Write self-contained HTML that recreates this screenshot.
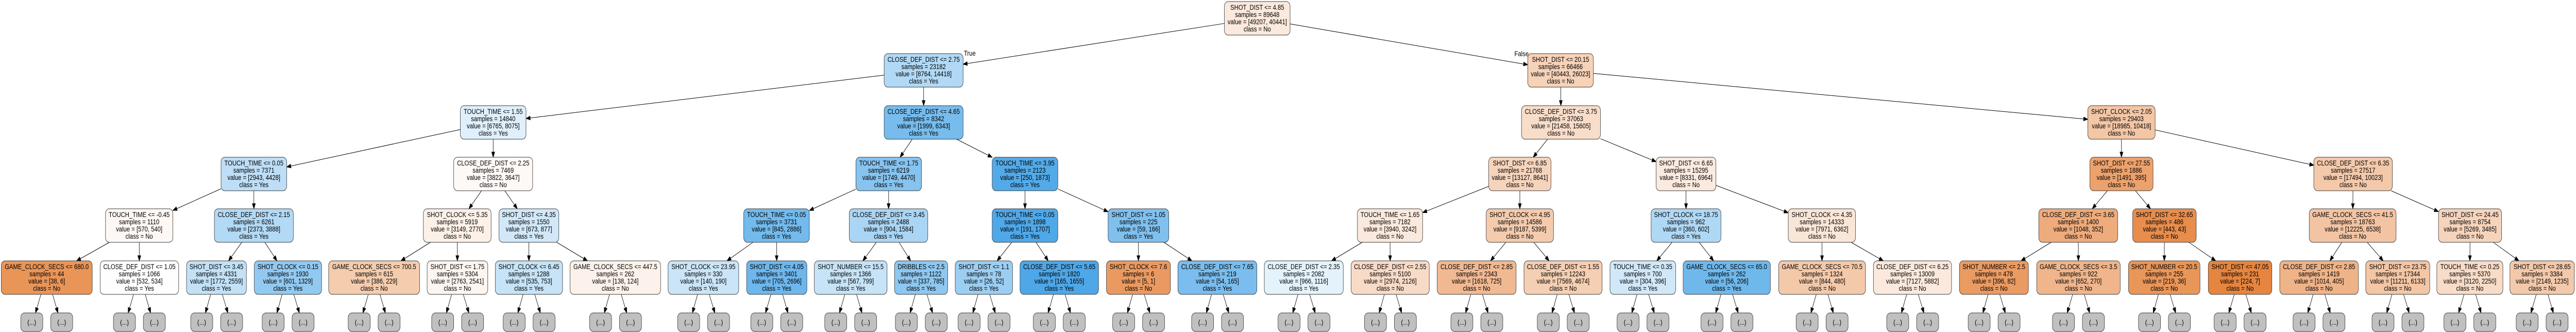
<!DOCTYPE html>
<html><head><meta charset="utf-8"><style>
html,body{margin:0;padding:0;background:#fff;width:100%;height:644px;overflow:hidden;}
svg{display:block;width:100%;height:644px;}
text{font-family:"Liberation Sans",Arial,sans-serif;font-size:14px;fill:#000;text-anchor:middle;}
.n{stroke:#3a3a3a;stroke-width:1;}
.lf{fill:#c0c0c0;stroke:#3a3a3a;stroke-width:1;}
</style></head><body>
<svg id="e" viewBox="0 0 6200 644" preserveAspectRatio="none" xmlns="http://www.w3.org/2000/svg">
<rect x="0" y="0" width="6200" height="644" fill="#fff"/>
<g id="edges"></g>
<text x="2320" y="108" style="text-anchor:start">True</text>
<text x="3645" y="109" style="text-anchor:start">False</text>

<rect class="n r0" x="2947" y="3" width="158" height="65" rx="9" fill="#fae9dc"/><text y="19"><tspan x="3026">SHOT_DIST &lt;= 4.85</tspan><tspan x="3026" dy="14">samples = 89648</tspan><tspan x="3026" dy="14">value = [49207, 40441]</tspan><tspan x="3026" dy="14">class = No</tspan></text>

<rect class="n r1" x="2128" y="104" width="190" height="65" rx="9" fill="#b1d9f5"/><text y="120"><tspan x="2223">CLOSE_DEF_DIST &lt;= 2.75</tspan><tspan x="2223" dy="14">samples = 23182</tspan><tspan x="2223" dy="14">value = [8764, 14418]</tspan><tspan x="2223" dy="14">class = Yes</tspan></text>
<rect class="n r1" x="3677" y="104" width="158" height="65" rx="9" fill="#f6d2b8"/><text y="120"><tspan x="3756">SHOT_DIST &lt;= 20.15</tspan><tspan x="3756" dy="14">samples = 66466</tspan><tspan x="3756" dy="14">value = [40443, 26023]</tspan><tspan x="3756" dy="14">class = No</tspan></text>

<rect class="n r2" x="1108" y="205" width="158" height="65" rx="9" fill="#dfeffb"/><text y="221"><tspan x="1187">TOUCH_TIME &lt;= 1.55</tspan><tspan x="1187" dy="14">samples = 14840</tspan><tspan x="1187" dy="14">value = [6765, 8075]</tspan><tspan x="1187" dy="14">class = Yes</tspan></text>
<rect class="n r2" x="2128" y="205" width="190" height="65" rx="9" fill="#77bced"/><text y="221"><tspan x="2223">CLOSE_DEF_DIST &lt;= 4.65</tspan><tspan x="2223" dy="14">samples = 8342</tspan><tspan x="2223" dy="14">value = [1999, 6343]</tspan><tspan x="2223" dy="14">class = Yes</tspan></text>
<rect class="n r2" x="3662" y="205" width="190" height="65" rx="9" fill="#f8ddc9"/><text y="221"><tspan x="3757">CLOSE_DEF_DIST &lt;= 3.75</tspan><tspan x="3757" dy="14">samples = 37063</tspan><tspan x="3757" dy="14">value = [21458, 15605]</tspan><tspan x="3757" dy="14">class = No</tspan></text>
<rect class="n r2" x="5025" y="205" width="162" height="65" rx="9" fill="#f3c6a6"/><text y="221"><tspan x="5106">SHOT_CLOCK &lt;= 2.05</tspan><tspan x="5106" dy="14">samples = 29403</tspan><tspan x="5106" dy="14">value = [18985, 10418]</tspan><tspan x="5106" dy="14">class = No</tspan></text>

<rect class="n r3" x="532" y="305" width="158" height="65" rx="9" fill="#bddef6"/><text y="321"><tspan x="611">TOUCH_TIME &lt;= 0.05</tspan><tspan x="611" dy="14">samples = 7371</tspan><tspan x="611" dy="14">value = [2943, 4428]</tspan><tspan x="611" dy="14">class = Yes</tspan></text>
<rect class="n r3" x="1092" y="305" width="190" height="65" rx="9" fill="#fef9f6"/><text y="321"><tspan x="1187">CLOSE_DEF_DIST &lt;= 2.25</tspan><tspan x="1187" dy="14">samples = 7469</tspan><tspan x="1187" dy="14">value = [3822, 3647]</tspan><tspan x="1187" dy="14">class = No</tspan></text>
<rect class="n r3" x="2060" y="305" width="158" height="65" rx="9" fill="#86c3ef"/><text y="321"><tspan x="2139">TOUCH_TIME &lt;= 1.75</tspan><tspan x="2139" dy="14">samples = 6219</tspan><tspan x="2139" dy="14">value = [1749, 4470]</tspan><tspan x="2139" dy="14">class = Yes</tspan></text>
<rect class="n r3" x="2388" y="305" width="158" height="65" rx="9" fill="#53aae8"/><text y="321"><tspan x="2467">TOUCH_TIME &lt;= 3.95</tspan><tspan x="2467" dy="14">samples = 2123</tspan><tspan x="2467" dy="14">value = [250, 1873]</tspan><tspan x="2467" dy="14">class = Yes</tspan></text>
<rect class="n r3" x="3583" y="305" width="150" height="65" rx="9" fill="#f6d4bb"/><text y="321"><tspan x="3658">SHOT_DIST &lt;= 6.85</tspan><tspan x="3658" dy="14">samples = 21768</tspan><tspan x="3658" dy="14">value = [13127, 8641]</tspan><tspan x="3658" dy="14">class = No</tspan></text>
<rect class="n r3" x="3986" y="305" width="144" height="65" rx="9" fill="#fbeadf"/><text y="321"><tspan x="4058">SHOT_DIST &lt;= 6.65</tspan><tspan x="4058" dy="14">samples = 15295</tspan><tspan x="4058" dy="14">value = [8331, 6964]</tspan><tspan x="4058" dy="14">class = No</tspan></text>
<rect class="n r3" x="5030" y="305" width="152" height="65" rx="9" fill="#eca26d"/><text y="321"><tspan x="5106">SHOT_DIST &lt;= 27.55</tspan><tspan x="5106" dy="14">samples = 1886</tspan><tspan x="5106" dy="14">value = [1491, 395]</tspan><tspan x="5106" dy="14">class = No</tspan></text>
<rect class="n r3" x="5569" y="305" width="189" height="65" rx="9" fill="#f4c9aa"/><text y="321"><tspan x="5663.5">CLOSE_DEF_DIST &lt;= 6.35</tspan><tspan x="5663.5" dy="14">samples = 27517</tspan><tspan x="5663.5" dy="14">value = [17494, 10023]</tspan><tspan x="5663.5" dy="14">class = No</tspan></text>

<rect class="n r4" x="254" y="405" width="162" height="65" rx="9" fill="#fef8f5"/><text y="421"><tspan x="335">TOUCH_TIME &lt;= -0.45</tspan><tspan x="335" dy="14">samples = 1110</tspan><tspan x="335" dy="14">value = [570, 540]</tspan><tspan x="335" dy="14">class = No</tspan></text>
<rect class="n r4" x="516" y="405" width="190" height="65" rx="9" fill="#b2d9f5"/><text y="421"><tspan x="611">CLOSE_DEF_DIST &lt;= 2.15</tspan><tspan x="611" dy="14">samples = 6261</tspan><tspan x="611" dy="14">value = [2373, 3888]</tspan><tspan x="611" dy="14">class = Yes</tspan></text>
<rect class="n r4" x="1019" y="405" width="163" height="65" rx="9" fill="#fcf0e7"/><text y="421"><tspan x="1100.5">SHOT_CLOCK &lt;= 5.35</tspan><tspan x="1100.5" dy="14">samples = 5919</tspan><tspan x="1100.5" dy="14">value = [3149, 2770]</tspan><tspan x="1100.5" dy="14">class = No</tspan></text>
<rect class="n r4" x="1201" y="405" width="144" height="65" rx="9" fill="#d1e8f9"/><text y="421"><tspan x="1273">SHOT_DIST &lt;= 4.35</tspan><tspan x="1273" dy="14">samples = 1550</tspan><tspan x="1273" dy="14">value = [673, 877]</tspan><tspan x="1273" dy="14">class = Yes</tspan></text>
<rect class="n r4" x="1790" y="405" width="158" height="65" rx="9" fill="#73baed"/><text y="421"><tspan x="1869">TOUCH_TIME &lt;= 0.05</tspan><tspan x="1869" dy="14">samples = 3731</tspan><tspan x="1869" dy="14">value = [845, 2886]</tspan><tspan x="1869" dy="14">class = Yes</tspan></text>
<rect class="n r4" x="2044" y="405" width="189" height="65" rx="9" fill="#aad5f4"/><text y="421"><tspan x="2138.5">CLOSE_DEF_DIST &lt;= 3.45</tspan><tspan x="2138.5" dy="14">samples = 2488</tspan><tspan x="2138.5" dy="14">value = [904, 1584]</tspan><tspan x="2138.5" dy="14">class = Yes</tspan></text>
<rect class="n r4" x="2388" y="405" width="158" height="65" rx="9" fill="#4fa8e8"/><text y="421"><tspan x="2467">TOUCH_TIME &lt;= 0.05</tspan><tspan x="2467" dy="14">samples = 1898</tspan><tspan x="2467" dy="14">value = [191, 1707]</tspan><tspan x="2467" dy="14">class = Yes</tspan></text>
<rect class="n r4" x="2667" y="405" width="146" height="65" rx="9" fill="#7fc0ee"/><text y="421"><tspan x="2740">SHOT_DIST &lt;= 1.05</tspan><tspan x="2740" dy="14">samples = 225</tspan><tspan x="2740" dy="14">value = [59, 166]</tspan><tspan x="2740" dy="14">class = Yes</tspan></text>
<rect class="n r4" x="3267" y="405" width="157" height="65" rx="9" fill="#fae9dc"/><text y="421"><tspan x="3345.5">TOUCH_TIME &lt;= 1.65</tspan><tspan x="3345.5" dy="14">samples = 7182</tspan><tspan x="3345.5" dy="14">value = [3940, 3242]</tspan><tspan x="3345.5" dy="14">class = No</tspan></text>
<rect class="n r4" x="3577" y="405" width="162" height="65" rx="9" fill="#f4cbad"/><text y="421"><tspan x="3658">SHOT_CLOCK &lt;= 4.95</tspan><tspan x="3658" dy="14">samples = 14586</tspan><tspan x="3658" dy="14">value = [9187, 5399]</tspan><tspan x="3658" dy="14">class = No</tspan></text>
<rect class="n r4" x="3974" y="405" width="168" height="65" rx="9" fill="#afd8f5"/><text y="421"><tspan x="4058">SHOT_CLOCK &lt;= 18.75</tspan><tspan x="4058" dy="14">samples = 962</tspan><tspan x="4058" dy="14">value = [360, 602]</tspan><tspan x="4058" dy="14">class = Yes</tspan></text>
<rect class="n r4" x="4304" y="405" width="162" height="65" rx="9" fill="#fae6d7"/><text y="421"><tspan x="4385">SHOT_CLOCK &lt;= 4.35</tspan><tspan x="4385" dy="14">samples = 14333</tspan><tspan x="4385" dy="14">value = [7971, 6362]</tspan><tspan x="4385" dy="14">class = No</tspan></text>
<rect class="n r4" x="4907" y="405" width="190" height="65" rx="9" fill="#eeab7c"/><text y="421"><tspan x="5002">CLOSE_DEF_DIST &lt;= 3.65</tspan><tspan x="5002" dy="14">samples = 1400</tspan><tspan x="5002" dy="14">value = [1048, 352]</tspan><tspan x="5002" dy="14">class = No</tspan></text>
<rect class="n r4" x="5133" y="405" width="153" height="65" rx="9" fill="#e88d4c"/><text y="421"><tspan x="5209.5">SHOT_DIST &lt;= 32.65</tspan><tspan x="5209.5" dy="14">samples = 486</tspan><tspan x="5209.5" dy="14">value = [443, 43]</tspan><tspan x="5209.5" dy="14">class = No</tspan></text>
<rect class="n r4" x="5558" y="405" width="209" height="65" rx="9" fill="#f3c4a3"/><text y="421"><tspan x="5662.5">GAME_CLOCK_SECS &lt;= 41.5</tspan><tspan x="5662.5" dy="14">samples = 18763</tspan><tspan x="5662.5" dy="14">value = [12225, 6538]</tspan><tspan x="5662.5" dy="14">class = No</tspan></text>
<rect class="n r4" x="5869" y="405" width="152" height="65" rx="9" fill="#f6d4bc"/><text y="421"><tspan x="5945">SHOT_DIST &lt;= 24.45</tspan><tspan x="5945" dy="14">samples = 8754</tspan><tspan x="5945" dy="14">value = [5269, 3485]</tspan><tspan x="5945" dy="14">class = No</tspan></text>

<rect class="n r5" x="3" y="506" width="219" height="65" rx="9" fill="#e99558"/><text y="522"><tspan x="112.5">GAME_CLOCK_SECS &lt;= 680.0</tspan><tspan x="112.5" dy="14">samples = 44</tspan><tspan x="112.5" dy="14">value = [38, 6]</tspan><tspan x="112.5" dy="14">class = No</tspan></text>
<rect class="n r5" x="241" y="506" width="189" height="65" rx="9" fill="#fefeff"/><text y="522"><tspan x="335.5">CLOSE_DEF_DIST &lt;= 1.05</tspan><tspan x="335.5" dy="14">samples = 1066</tspan><tspan x="335.5" dy="14">value = [532, 534]</tspan><tspan x="335.5" dy="14">class = Yes</tspan></text>
<rect class="n r5" x="449" y="506" width="144" height="65" rx="9" fill="#c2e1f7"/><text y="522"><tspan x="521">SHOT_DIST &lt;= 3.45</tspan><tspan x="521" dy="14">samples = 4331</tspan><tspan x="521" dy="14">value = [1772, 2559]</tspan><tspan x="521" dy="14">class = Yes</tspan></text>
<rect class="n r5" x="612" y="506" width="162" height="65" rx="9" fill="#92c9f1"/><text y="522"><tspan x="693">SHOT_CLOCK &lt;= 0.15</tspan><tspan x="693" dy="14">samples = 1930</tspan><tspan x="693" dy="14">value = [601, 1329]</tspan><tspan x="693" dy="14">class = Yes</tspan></text>
<rect class="n r5" x="791" y="506" width="219" height="65" rx="9" fill="#f4ccae"/><text y="522"><tspan x="900.5">GAME_CLOCK_SECS &lt;= 700.5</tspan><tspan x="900.5" dy="14">samples = 615</tspan><tspan x="900.5" dy="14">value = [386, 229]</tspan><tspan x="900.5" dy="14">class = No</tspan></text>
<rect class="n r5" x="1028" y="506" width="146" height="65" rx="9" fill="#fdf5ef"/><text y="522"><tspan x="1101">SHOT_DIST &lt;= 1.75</tspan><tspan x="1101" dy="14">samples = 5304</tspan><tspan x="1101" dy="14">value = [2763, 2541]</tspan><tspan x="1101" dy="14">class = No</tspan></text>
<rect class="n r5" x="1192" y="506" width="162" height="65" rx="9" fill="#c6e3f7"/><text y="522"><tspan x="1273">SHOT_CLOCK &lt;= 6.45</tspan><tspan x="1273" dy="14">samples = 1288</tspan><tspan x="1273" dy="14">value = [535, 753]</tspan><tspan x="1273" dy="14">class = Yes</tspan></text>
<rect class="n r5" x="1372" y="506" width="218" height="65" rx="9" fill="#fcf2eb"/><text y="522"><tspan x="1481">GAME_CLOCK_SECS &lt;= 447.5</tspan><tspan x="1481" dy="14">samples = 262</tspan><tspan x="1481" dy="14">value = [138, 124]</tspan><tspan x="1481" dy="14">class = No</tspan></text>
<rect class="n r5" x="1608" y="506" width="170" height="65" rx="9" fill="#cbe5f8"/><text y="522"><tspan x="1693">SHOT_CLOCK &lt;= 23.95</tspan><tspan x="1693" dy="14">samples = 330</tspan><tspan x="1693" dy="14">value = [140, 190]</tspan><tspan x="1693" dy="14">class = Yes</tspan></text>
<rect class="n r5" x="1797" y="506" width="145" height="65" rx="9" fill="#6db7ec"/><text y="522"><tspan x="1869.5">SHOT_DIST &lt;= 4.05</tspan><tspan x="1869.5" dy="14">samples = 3401</tspan><tspan x="1869.5" dy="14">value = [705, 2696]</tspan><tspan x="1869.5" dy="14">class = Yes</tspan></text>
<rect class="n r5" x="1960" y="506" width="175" height="65" rx="9" fill="#c6e3f7"/><text y="522"><tspan x="2047.5">SHOT_NUMBER &lt;= 15.5</tspan><tspan x="2047.5" dy="14">samples = 1366</tspan><tspan x="2047.5" dy="14">value = [567, 799]</tspan><tspan x="2047.5" dy="14">class = Yes</tspan></text>
<rect class="n r5" x="2153" y="506" width="128" height="65" rx="9" fill="#8ec7f0"/><text y="522"><tspan x="2217">DRIBBLES &lt;= 2.5</tspan><tspan x="2217" dy="14">samples = 1122</tspan><tspan x="2217" dy="14">value = [337, 785]</tspan><tspan x="2217" dy="14">class = Yes</tspan></text>
<rect class="n r5" x="2299" y="506" width="138" height="65" rx="9" fill="#9ccef2"/><text y="522"><tspan x="2368">SHOT_DIST &lt;= 1.1</tspan><tspan x="2368" dy="14">samples = 78</tspan><tspan x="2368" dy="14">value = [26, 52]</tspan><tspan x="2368" dy="14">class = Yes</tspan></text>
<rect class="n r5" x="2455" y="506" width="189" height="65" rx="9" fill="#4da7e8"/><text y="522"><tspan x="2549.5">CLOSE_DEF_DIST &lt;= 5.65</tspan><tspan x="2549.5" dy="14">samples = 1820</tspan><tspan x="2549.5" dy="14">value = [165, 1655]</tspan><tspan x="2549.5" dy="14">class = Yes</tspan></text>
<rect class="n r5" x="2663" y="506" width="154" height="65" rx="9" fill="#ea9a61"/><text y="522"><tspan x="2740">SHOT_CLOCK &lt;= 7.6</tspan><tspan x="2740" dy="14">samples = 6</tspan><tspan x="2740" dy="14">value = [5, 1]</tspan><tspan x="2740" dy="14">class = No</tspan></text>
<rect class="n r5" x="2835" y="506" width="190" height="65" rx="9" fill="#7abdee"/><text y="522"><tspan x="2930">CLOSE_DEF_DIST &lt;= 7.65</tspan><tspan x="2930" dy="14">samples = 219</tspan><tspan x="2930" dy="14">value = [54, 165]</tspan><tspan x="2930" dy="14">class = Yes</tspan></text>
<rect class="n r5" x="3043" y="506" width="190" height="65" rx="9" fill="#e4f2fc"/><text y="522"><tspan x="3138">CLOSE_DEF_DIST &lt;= 2.35</tspan><tspan x="3138" dy="14">samples = 2082</tspan><tspan x="3138" dy="14">value = [966, 1116]</tspan><tspan x="3138" dy="14">class = Yes</tspan></text>
<rect class="n r5" x="3252" y="506" width="188" height="65" rx="9" fill="#f8dbc7"/><text y="522"><tspan x="3346">CLOSE_DEF_DIST &lt;= 2.55</tspan><tspan x="3346" dy="14">samples = 5100</tspan><tspan x="3346" dy="14">value = [2974, 2126]</tspan><tspan x="3346" dy="14">class = No</tspan></text>
<rect class="n r5" x="3459" y="506" width="190" height="65" rx="9" fill="#f1b992"/><text y="522"><tspan x="3554">CLOSE_DEF_DIST &lt;= 2.85</tspan><tspan x="3554" dy="14">samples = 2343</tspan><tspan x="3554" dy="14">value = [1618, 725]</tspan><tspan x="3554" dy="14">class = No</tspan></text>
<rect class="n r5" x="3668" y="506" width="188" height="65" rx="9" fill="#f5cfb3"/><text y="522"><tspan x="3762">CLOSE_DEF_DIST &lt;= 1.55</tspan><tspan x="3762" dy="14">samples = 12243</tspan><tspan x="3762" dy="14">value = [7569, 4674]</tspan><tspan x="3762" dy="14">class = No</tspan></text>
<rect class="n r5" x="3875" y="506" width="158" height="65" rx="9" fill="#d1e8f9"/><text y="522"><tspan x="3954">TOUCH_TIME &lt;= 0.35</tspan><tspan x="3954" dy="14">samples = 700</tspan><tspan x="3954" dy="14">value = [304, 396]</tspan><tspan x="3954" dy="14">class = Yes</tspan></text>
<rect class="n r5" x="4051" y="506" width="210" height="65" rx="9" fill="#6fb8ec"/><text y="522"><tspan x="4156">GAME_CLOCK_SECS &lt;= 65.0</tspan><tspan x="4156" dy="14">samples = 262</tspan><tspan x="4156" dy="14">value = [56, 206]</tspan><tspan x="4156" dy="14">class = Yes</tspan></text>
<rect class="n r5" x="4281" y="506" width="209" height="65" rx="9" fill="#f4c9aa"/><text y="522"><tspan x="4385.5">GAME_CLOCK_SECS &lt;= 70.5</tspan><tspan x="4385.5" dy="14">samples = 1324</tspan><tspan x="4385.5" dy="14">value = [844, 480]</tspan><tspan x="4385.5" dy="14">class = No</tspan></text>
<rect class="n r5" x="4509" y="506" width="188" height="65" rx="9" fill="#fae9dc"/><text y="522"><tspan x="4603">CLOSE_DEF_DIST &lt;= 6.25</tspan><tspan x="4603" dy="14">samples = 13009</tspan><tspan x="4603" dy="14">value = [7127, 5882]</tspan><tspan x="4603" dy="14">class = No</tspan></text>
<rect class="n r5" x="4716" y="506" width="166" height="65" rx="9" fill="#ea9b62"/><text y="522"><tspan x="4799">SHOT_NUMBER &lt;= 2.5</tspan><tspan x="4799" dy="14">samples = 478</tspan><tspan x="4799" dy="14">value = [396, 82]</tspan><tspan x="4799" dy="14">class = No</tspan></text>
<rect class="n r5" x="4902" y="506" width="201" height="65" rx="9" fill="#f0b58b"/><text y="522"><tspan x="5002.5">GAME_CLOCK_SECS &lt;= 3.5</tspan><tspan x="5002.5" dy="14">samples = 922</tspan><tspan x="5002.5" dy="14">value = [652, 270]</tspan><tspan x="5002.5" dy="14">class = No</tspan></text>
<rect class="n r5" x="5123" y="506" width="172" height="65" rx="9" fill="#e99659"/><text y="522"><tspan x="5209">SHOT_NUMBER &lt;= 20.5</tspan><tspan x="5209" dy="14">samples = 255</tspan><tspan x="5209" dy="14">value = [219, 36]</tspan><tspan x="5209" dy="14">class = No</tspan></text>
<rect class="n r5" x="5315" y="506" width="153" height="65" rx="9" fill="#e6853f"/><text y="522"><tspan x="5391.5">SHOT_DIST &lt;= 47.05</tspan><tspan x="5391.5" dy="14">samples = 231</tspan><tspan x="5391.5" dy="14">value = [224, 7]</tspan><tspan x="5391.5" dy="14">class = No</tspan></text>
<rect class="n r5" x="5487" y="506" width="189" height="65" rx="9" fill="#efb388"/><text y="522"><tspan x="5581.5">CLOSE_DEF_DIST &lt;= 2.85</tspan><tspan x="5581.5" dy="14">samples = 1419</tspan><tspan x="5581.5" dy="14">value = [1014, 405]</tspan><tspan x="5581.5" dy="14">class = No</tspan></text>
<rect class="n r5" x="5694" y="506" width="154" height="65" rx="9" fill="#f3c6a5"/><text y="522"><tspan x="5771">SHOT_DIST &lt;= 23.75</tspan><tspan x="5771" dy="14">samples = 17344</tspan><tspan x="5771" dy="14">value = [11211, 6133]</tspan><tspan x="5771" dy="14">class = No</tspan></text>
<rect class="n r5" x="5865" y="506" width="159" height="65" rx="9" fill="#f8dcc8"/><text y="522"><tspan x="5944.5">TOUCH_TIME &lt;= 0.25</tspan><tspan x="5944.5" dy="14">samples = 5370</tspan><tspan x="5944.5" dy="14">value = [3120, 2250]</tspan><tspan x="5944.5" dy="14">class = No</tspan></text>
<rect class="n r5" x="6041" y="506" width="155" height="65" rx="9" fill="#f4c9ab"/><text y="522"><tspan x="6118.5">SHOT_DIST &lt;= 28.65</tspan><tspan x="6118.5" dy="14">samples = 3384</tspan><tspan x="6118.5" dy="14">value = [2149, 1235]</tspan><tspan x="6118.5" dy="14">class = No</tspan></text>

<g id="leaves">
<rect class="lf" x="50" y="607" width="53" height="36" rx="9"/><text x="76.5" y="630">(...)</text>
<rect class="lf" x="122" y="607" width="53" height="36" rx="9"/><text x="148.5" y="630">(...)</text>
<rect class="lf" x="273" y="607" width="53" height="36" rx="9"/><text x="299.5" y="630">(...)</text>
<rect class="lf" x="345" y="607" width="53" height="36" rx="9"/><text x="371.5" y="630">(...)</text>
<rect class="lf" x="459" y="607" width="53" height="36" rx="9"/><text x="485.5" y="630">(...)</text>
<rect class="lf" x="531" y="607" width="53" height="36" rx="9"/><text x="557.5" y="630">(...)</text>
<rect class="lf" x="631" y="607" width="53" height="36" rx="9"/><text x="657.5" y="630">(...)</text>
<rect class="lf" x="703" y="607" width="53" height="36" rx="9"/><text x="729.5" y="630">(...)</text>
<rect class="lf" x="838" y="607" width="53" height="36" rx="9"/><text x="864.5" y="630">(...)</text>
<rect class="lf" x="910" y="607" width="53" height="36" rx="9"/><text x="936.5" y="630">(...)</text>
<rect class="lf" x="1039" y="607" width="53" height="36" rx="9"/><text x="1065.5" y="630">(...)</text>
<rect class="lf" x="1111" y="607" width="53" height="36" rx="9"/><text x="1137.5" y="630">(...)</text>
<rect class="lf" x="1211" y="607" width="53" height="36" rx="9"/><text x="1237.5" y="630">(...)</text>
<rect class="lf" x="1283" y="607" width="53" height="36" rx="9"/><text x="1309.5" y="630">(...)</text>
<rect class="lf" x="1419" y="607" width="53" height="36" rx="9"/><text x="1445.5" y="630">(...)</text>
<rect class="lf" x="1491" y="607" width="53" height="36" rx="9"/><text x="1517.5" y="630">(...)</text>
<rect class="lf" x="1631" y="607" width="53" height="36" rx="9"/><text x="1657.5" y="630">(...)</text>
<rect class="lf" x="1703" y="607" width="53" height="36" rx="9"/><text x="1729.5" y="630">(...)</text>
<rect class="lf" x="1807" y="607" width="53" height="36" rx="9"/><text x="1833.5" y="630">(...)</text>
<rect class="lf" x="1879" y="607" width="53" height="36" rx="9"/><text x="1905.5" y="630">(...)</text>
<rect class="lf" x="1985" y="607" width="53" height="36" rx="9"/><text x="2011.5" y="630">(...)</text>
<rect class="lf" x="2057" y="607" width="53" height="36" rx="9"/><text x="2083.5" y="630">(...)</text>
<rect class="lf" x="2155" y="607" width="53" height="36" rx="9"/><text x="2181.5" y="630">(...)</text>
<rect class="lf" x="2227" y="607" width="53" height="36" rx="9"/><text x="2253.5" y="630">(...)</text>
<rect class="lf" x="2306" y="607" width="53" height="36" rx="9"/><text x="2332.5" y="630">(...)</text>
<rect class="lf" x="2378" y="607" width="53" height="36" rx="9"/><text x="2404.5" y="630">(...)</text>
<rect class="lf" x="2487" y="607" width="53" height="36" rx="9"/><text x="2513.5" y="630">(...)</text>
<rect class="lf" x="2559" y="607" width="53" height="36" rx="9"/><text x="2585.5" y="630">(...)</text>
<rect class="lf" x="2678" y="607" width="53" height="36" rx="9"/><text x="2704.5" y="630">(...)</text>
<rect class="lf" x="2750" y="607" width="53" height="36" rx="9"/><text x="2776.5" y="630">(...)</text>
<rect class="lf" x="2868" y="607" width="53" height="36" rx="9"/><text x="2894.5" y="630">(...)</text>
<rect class="lf" x="2940" y="607" width="53" height="36" rx="9"/><text x="2966.5" y="630">(...)</text>
<rect class="lf" x="3076" y="607" width="53" height="36" rx="9"/><text x="3102.5" y="630">(...)</text>
<rect class="lf" x="3148" y="607" width="53" height="36" rx="9"/><text x="3174.5" y="630">(...)</text>
<rect class="lf" x="3284" y="607" width="53" height="36" rx="9"/><text x="3310.5" y="630">(...)</text>
<rect class="lf" x="3356" y="607" width="53" height="36" rx="9"/><text x="3382.5" y="630">(...)</text>
<rect class="lf" x="3492" y="607" width="53" height="36" rx="9"/><text x="3518.5" y="630">(...)</text>
<rect class="lf" x="3564" y="607" width="53" height="36" rx="9"/><text x="3590.5" y="630">(...)</text>
<rect class="lf" x="3700" y="607" width="53" height="36" rx="9"/><text x="3726.5" y="630">(...)</text>
<rect class="lf" x="3772" y="607" width="53" height="36" rx="9"/><text x="3798.5" y="630">(...)</text>
<rect class="lf" x="3892" y="607" width="53" height="36" rx="9"/><text x="3918.5" y="630">(...)</text>
<rect class="lf" x="3964" y="607" width="53" height="36" rx="9"/><text x="3990.5" y="630">(...)</text>
<rect class="lf" x="4094" y="607" width="53" height="36" rx="9"/><text x="4120.5" y="630">(...)</text>
<rect class="lf" x="4166" y="607" width="53" height="36" rx="9"/><text x="4192.5" y="630">(...)</text>
<rect class="lf" x="4323" y="607" width="53" height="36" rx="9"/><text x="4349.5" y="630">(...)</text>
<rect class="lf" x="4395" y="607" width="53" height="36" rx="9"/><text x="4421.5" y="630">(...)</text>
<rect class="lf" x="4541" y="607" width="53" height="36" rx="9"/><text x="4567.5" y="630">(...)</text>
<rect class="lf" x="4613" y="607" width="53" height="36" rx="9"/><text x="4639.5" y="630">(...)</text>
<rect class="lf" x="4737" y="607" width="53" height="36" rx="9"/><text x="4763.5" y="630">(...)</text>
<rect class="lf" x="4809" y="607" width="53" height="36" rx="9"/><text x="4835.5" y="630">(...)</text>
<rect class="lf" x="4940" y="607" width="53" height="36" rx="9"/><text x="4966.5" y="630">(...)</text>
<rect class="lf" x="5012" y="607" width="53" height="36" rx="9"/><text x="5038.5" y="630">(...)</text>
<rect class="lf" x="5147" y="607" width="53" height="36" rx="9"/><text x="5173.5" y="630">(...)</text>
<rect class="lf" x="5219" y="607" width="53" height="36" rx="9"/><text x="5245.5" y="630">(...)</text>
<rect class="lf" x="5329" y="607" width="53" height="36" rx="9"/><text x="5355.5" y="630">(...)</text>
<rect class="lf" x="5401" y="607" width="53" height="36" rx="9"/><text x="5427.5" y="630">(...)</text>
<rect class="lf" x="5519" y="607" width="53" height="36" rx="9"/><text x="5545.5" y="630">(...)</text>
<rect class="lf" x="5591" y="607" width="53" height="36" rx="9"/><text x="5617.5" y="630">(...)</text>
<rect class="lf" x="5709" y="607" width="53" height="36" rx="9"/><text x="5735.5" y="630">(...)</text>
<rect class="lf" x="5781" y="607" width="53" height="36" rx="9"/><text x="5807.5" y="630">(...)</text>
<rect class="lf" x="5882" y="607" width="53" height="36" rx="9"/><text x="5908.5" y="630">(...)</text>
<rect class="lf" x="5954" y="607" width="53" height="36" rx="9"/><text x="5980.5" y="630">(...)</text>
<rect class="lf" x="6056" y="607" width="53" height="36" rx="9"/><text x="6082.5" y="630">(...)</text>
<rect class="lf" x="6128" y="607" width="53" height="36" rx="9"/><text x="6154.5" y="630">(...)</text>
</g>
</svg>
<script>
(function(){
var NS='http://www.w3.org/2000/svg',g=document.getElementById('edges');
function box(r){return {l:+r.getAttribute('x'),t:+r.getAttribute('y'),w:+r.getAttribute('width'),h:+r.getAttribute('height')};}
var rows=[];for(var k=0;k<6;k++){rows.push([].slice.call(document.querySelectorAll('rect.r'+k)).map(box));}
var leaves=[].slice.call(document.querySelectorAll('rect.lf')).map(box);
function arrow(x1,y1,x2,y2){
 var dx=x2-x1,dy=y2-y1,L=Math.sqrt(dx*dx+dy*dy),ux=dx/L,uy=dy/L,al=10,aw=3.6;
 var bx=x2-ux*al,by=y2-uy*al;
 var ln=document.createElementNS(NS,'line');
 ln.setAttribute('x1',x1);ln.setAttribute('y1',y1);ln.setAttribute('x2',bx);ln.setAttribute('y2',by);
 ln.setAttribute('stroke','#000');ln.setAttribute('stroke-width','1');g.appendChild(ln);
 var p=document.createElementNS(NS,'polygon');
 p.setAttribute('points',x2+','+y2+' '+(bx-uy*aw)+','+(by+ux*aw)+' '+(bx+uy*aw)+','+(by-ux*aw));
 p.setAttribute('fill','#000');p.setAttribute('stroke','#000');g.appendChild(p);
}
function clipT(b,dx,dy){var a=Math.abs(dx)>0?(b.w/2)/Math.abs(dx):1e9,c=Math.abs(dy)>0?(b.h/2)/Math.abs(dy):1e9;return Math.min(a,c);}
for(var k=0;k<5;k++){
 rows[k].forEach(function(p,i){
  [2*i,2*i+1].forEach(function(j){
   var c=rows[k+1][j];if(!c)return;
   var px=p.l+p.w/2,py=p.t+p.h/2,cx=c.l+c.w/2,cy=c.t+c.h/2,dx=cx-px,dy=cy-py;
   var tp=clipT(p,dx,dy),tc=clipT(c,dx,dy);
   arrow(px+dx*tp,py+dy*tp,cx-dx*tc,cy-dy*tc);
  });
 });
}
rows[5].forEach(function(p,i){
 var px=p.l+p.w/2,pb=p.t+p.h;
 var a=leaves[2*i],b=leaves[2*i+1];
 if(a)arrow(px-14,pb,a.l+a.w/2+9,a.t);
 if(b)arrow(px+14,pb,b.l+b.w/2-9,b.t);
});
})();
</script>
</body></html>
